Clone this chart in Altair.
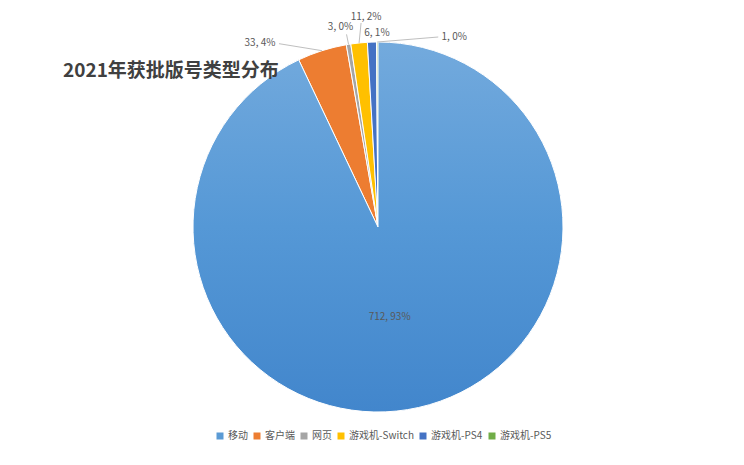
import altair as alt
import pandas as pd

# ---- data ----
categories = ["移动", "客户端", "网页", "游戏机-Switch", "游戏机-PS4", "游戏机-PS5"]
values = [712, 33, 3, 11, 6, 1]
pct_labels = ["93%", "4%", "0%", "2%", "1%", "0%"]
colors = ["#5B9BD5", "#ED7D31", "#A5A5A5", "#FFC000", "#4472C4", "#70AD47"]
title_text = "2021年获批版号类型分布"

# ---- layout (label offsets relative to each slice's outer edge midpoint) ----
CX, CY, R = 370, 219, 185
label_off = {
    "移动": (-29, -90),
    "客户端": (-62, -8),
    "网页": (-8, -17),
    "游戏机-Switch": (7, -26),
    "游戏机-PS4": (5, -9),
    "游戏机-PS5": (77, -5),
}
line_off = {
    "客户端": (-43, -7),
    "网页": (-2, -10),
    "游戏机-Switch": (2, -20),
    "游戏机-PS5": (61, -5),
}

df = pd.DataFrame({
    "类型": categories,
    "数量": values,
    "占比": pct_labels,
    "order": list(range(len(categories))),
})
df["ldx"] = [label_off[c][0] for c in categories]
df["ldy"] = [label_off[c][1] for c in categories]
df["kdx"] = [line_off[c][0] if c in line_off else None for c in categories]
df["kdy"] = [line_off[c][1] if c in line_off else None for c in categories]

base = alt.Chart(df).transform_joinaggregate(
    total="sum(数量)"
).transform_window(
    cum="sum(数量)", sort=[alt.SortField("order")]
).transform_calculate(
    a1="datum.cum / datum.total * 2 * PI",
    a0="(datum.cum - datum['数量']) / datum.total * 2 * PI",
).transform_calculate(
    mid="(datum.a0 + datum.a1) / 2",
).transform_calculate(
    ex=f"{CX} + {R} * sin(datum.mid)",
    ey=f"{CY} - {R} * cos(datum.mid)",
    lab="datum['数量'] + ', ' + datum['占比']",
).transform_calculate(
    lx="datum.ex + datum.ldx",
    ly="datum.ey + datum.ldy",
)

arcs = base.mark_arc(outerRadius=R, stroke="white", strokeWidth=1).encode(
    x=alt.value(CX),
    y=alt.value(CY),
    theta=alt.Theta("a0:Q", scale=None),
    theta2="a1:Q",
    color=alt.Color(
        "类型:N",
        scale=alt.Scale(domain=categories, range=colors),
        sort=categories,
        legend=alt.Legend(
            title=None,
            orient="none",
            direction="horizontal",
            legendX=207,
            legendY=423,
            symbolType="square",
            symbolSize=49,
            symbolStrokeWidth=0,
            labelFontSize=10,
            labelColor="#595959",
            labelFont="Noto Sans CJK SC",
            labelOffset=3,
            columnPadding=4,
        ),
    ),
)

blue_overlay = base.transform_filter(
    alt.datum["类型"] == categories[0]
).mark_arc(
    outerRadius=R,
    stroke="white",
    strokeWidth=1,
    color=alt.Gradient(
        gradient="linear",
        stops=[
            alt.GradientStop(color="#73aadd", offset=0),
            alt.GradientStop(color="#5598d6", offset=0.5),
            alt.GradientStop(color="#4286cc", offset=1),
        ],
        x1=0, x2=0, y1=0, y2=1,
    ),
).encode(
    x=alt.value(CX),
    y=alt.value(CY),
    theta=alt.Theta("a0:Q", scale=None),
    theta2="a1:Q",
)

lines = base.transform_filter("isValid(datum.kdx)").transform_calculate(
    x2="datum.ex + datum.kdx",
    y2="datum.ey + datum.kdy",
).mark_rule(color="#bfbfbf", strokeWidth=1).encode(
    x=alt.X("ex:Q", scale=None),
    y=alt.Y("ey:Q", scale=None),
    x2="x2:Q",
    y2="y2:Q",
)

labels = base.mark_text(
    font="Noto Sans CJK SC", fontSize=10, color="#595959"
).encode(
    x=alt.X("lx:Q", scale=None),
    y=alt.Y("ly:Q", scale=None),
    text="lab:N",
)

chart = alt.layer(arcs, blue_overlay, lines, labels).properties(
    width=728,
    height=449,
    autosize=alt.AutoSizeParams(type="none"),
    padding=0,
    background="white",
    title=alt.TitleParams(
        text=title_text,
        anchor="start",
        orient="top",
        frame="group",
        font="Noto Sans CJK SC",
        fontSize=19,
        fontWeight="bold",
        color="#404040",
        baseline="middle",
        dx=55,
        dy=86,
    ),
).configure_view(strokeWidth=0, stroke="transparent")

chart.save("out.html", embed_options={"renderer": "svg", "actions": False})
